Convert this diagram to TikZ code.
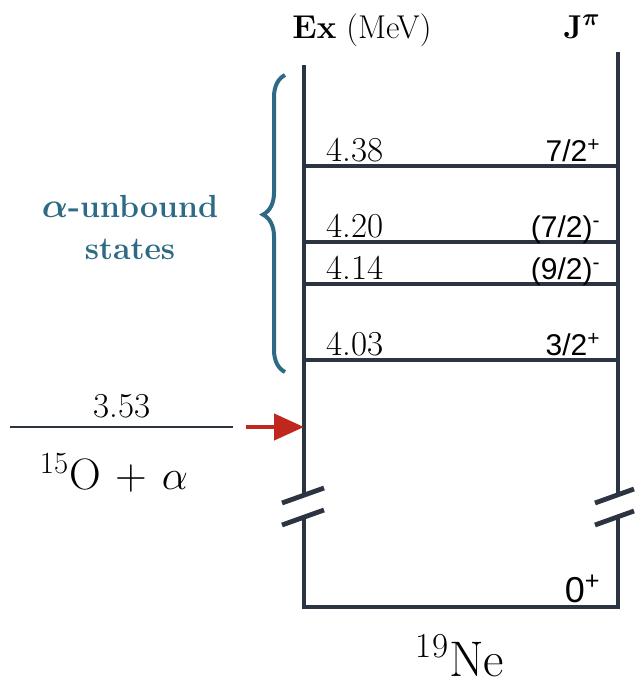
\documentclass[tikz,border=0pt]{standalone}
\usepackage{fontspec}
\newfontfamily\spinfont{Liberation Sans}
\usetikzlibrary{arrows.meta,decorations.pathreplacing}
\definecolor{levelgray}{HTML}{2B3440}
\definecolor{braceteal}{HTML}{2E6A86}
\definecolor{arrowred}{HTML}{C0281F}
\tikzset{
  level/.style={draw=levelgray, line width=2pt},
  frame/.style={draw=levelgray, line width=2.4pt},
  energy/.style={font=\fontsize{17.5}{20}\selectfont, inner sep=0pt},
  spin/.style={font=\spinfont\fontsize{15}{17}\selectfont, inner sep=0pt},
}

\begin{document}
\begin{tikzpicture}[x=0.5pt,y=-0.5pt]
\useasboundingbox (0,0) rectangle (634,692);

% frame of the level scheme
\coordinate (topL) at (304,65);
\coordinate (topR) at (618,52);
\coordinate (cutL) at (304,495);
\coordinate (cutR) at (618,495);
\coordinate (restL) at (304,517);
\coordinate (restR) at (618,517);
\coordinate (botL) at (304,607);
\coordinate (botR) at (618,607);
\draw[frame] (topL) -- (cutL);
\draw[frame] (topR) -- (cutR);
\draw[frame] (restL) -- (botL) -- (botR) -- (restR);

% break marks
\foreach \y in {503,525} {
  \draw[frame] (282,\y) -- (324,\y-15);
  \draw[frame] (595,\y) -- (634,\y-14);
}

% levels
\foreach \y/\e/\jp/\n in {166/4.38/{7/2\textsuperscript{+}}/a,
                          242/4.20/{(7/2)\textsuperscript{-}}/b,
                          284/4.14/{(9/2)\textsuperscript{-}}/c,
                          360/4.03/{3/2\textsuperscript{+}}/d}
{
  \draw[level] (304,\y) -- (618,\y);
  \node[energy, anchor=base west] (e\n) at (326,\y-4.5) {\e};
  \node[spin, anchor=base east] (j\n) at (601,\y-4.5) {\jp};
}
\node[spin, font=\spinfont\fontsize{18}{20}\selectfont, anchor=base east] (gs) at (601,602) {0\textsuperscript{+}};

% headers
\node[anchor=base, font=\fontsize{16.5}{19}\selectfont] (exhead) at (362,38) {\textbf{Ex} (MeV)};
\node[anchor=base, font=\fontsize{16.5}{19}\selectfont] (jhead) at (582,38) {\textbf{J}{\boldmath$^{\pi}$}};

% alpha threshold
\coordinate (thrA) at (10,427);
\coordinate (thrB) at (233,427);
\draw[level, line width=1.3pt] (thrA) -- (thrB);
\node[energy, anchor=base] (thrE) at (122,417) {3.53};
\node[anchor=base, font=\fontsize{22}{26}\selectfont] (chan) at (114,489) {\textsuperscript{15}O\,\,+\,\,$\alpha$};
\coordinate (src) at (246,427);
\draw[arrowred, line width=2.2pt, -{Triangle[length=15pt,width=13pt]}] (src) -- (src -| topL);

% unbound states
\draw[braceteal, line width=2pt, decorate, decoration={brace, amplitude=11pt, aspect=0.53}]
  (285,372) -- (285,75);
\node[braceteal, font=\bfseries\fontsize{16}{21}\selectfont, align=center] (unb) at (130,227)
  {{\boldmath$\alpha$}-unbound\\states};

% nucleus
\node[anchor=base, font=\fontsize{25}{30}\selectfont] (nucl) at (460,676) {\textsuperscript{19}Ne};
\end{tikzpicture}
\end{document}
